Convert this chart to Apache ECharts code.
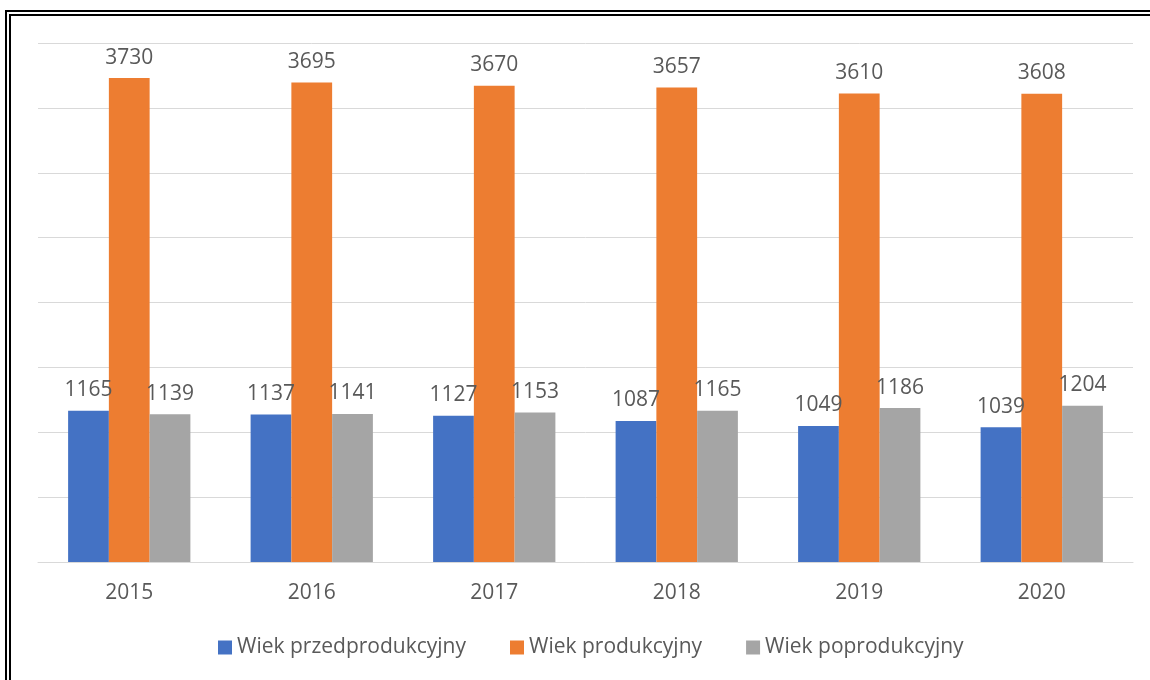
<!DOCTYPE html>
<html>
<head>
<meta charset="utf-8">
<script src="https://cdn.jsdelivr.net/npm/echarts@6/dist/echarts.min.js"></script>
<style>
html,body{margin:0;padding:0;background:#fff;}
#chart{width:1150px;height:680px;}
</style>
</head>
<body>
<div id="chart"></div>
<script>
const categories = ['2015', '2016', '2017', '2018', '2019', '2020'];
const seriesNames = ['Wiek przedprodukcyjny', 'Wiek produkcyjny', 'Wiek poprodukcyjny'];
const przedprodukcyjny = [1165, 1137, 1127, 1087, 1049, 1039];
const produkcyjny = [3730, 3695, 3670, 3657, 3610, 3608];
const poprodukcyjny = [1139, 1141, 1153, 1165, 1186, 1204];
const colors = ['#4472C4', '#ED7D31', '#A5A5A5'];
const yMin = 0, yMax = 4000, yInterval = 500;

const FONT = "'Open Sans', sans-serif";
const TXT = '#595959';

const chart = echarts.init(document.getElementById('chart'), null, {renderer: 'canvas'});
function mk(name, data, color) {
  return {
    name: name,
    type: 'bar',
    data: data,
    barGap: '0%',
    barCategoryGap: '33%',
    itemStyle: {color: color},
    label: {
      show: true,
      position: 'top',
      distance: 10,
      color: TXT,
      fontFamily: FONT,
      fontSize: 21
    },
    emphasis: {disabled: true}
  };
}
chart.setOption({
  animation: false,
  color: colors,
  grid: {left: 38, right: 17, top: 43, bottom: 118, containLabel: false},
  legend: {
    bottom: 17,
    left: 213,
    itemWidth: 14,
    itemHeight: 14,
    itemGap: 44,
    icon: 'rect',
    textStyle: {color: TXT, fontFamily: FONT, fontSize: 21},
    data: seriesNames
  },
  xAxis: {
    type: 'category',
    data: categories,
    axisLine: {show: true, lineStyle: {color: '#D9D9D9', width: 1}},
    axisTick: {show: false},
    axisLabel: {color: TXT, fontFamily: FONT, fontSize: 21, margin: 21}
  },
  yAxis: {
    type: 'value',
    min: yMin,
    max: yMax,
    interval: yInterval,
    axisLabel: {show: false},
    axisLine: {show: false},
    axisTick: {show: false},
    splitLine: {lineStyle: {color: '#D9D9D9', width: 1}}
  },
  graphic: [
    {type: 'rect', silent: true, shape: {x: 6, y: 11, width: 1200, height: 800},
     style: {fill: 'none', stroke: '#000', lineWidth: 2}},
    {type: 'rect', silent: true, shape: {x: 10, y: 15, width: 1200, height: 800},
     style: {fill: 'none', stroke: '#000', lineWidth: 2}}
  ],
  series: [
    mk(seriesNames[0], przedprodukcyjny, colors[0]),
    mk(seriesNames[1], produkcyjny, colors[1]),
    mk(seriesNames[2], poprodukcyjny, colors[2])
  ]
});
</script>
</body>
</html>
